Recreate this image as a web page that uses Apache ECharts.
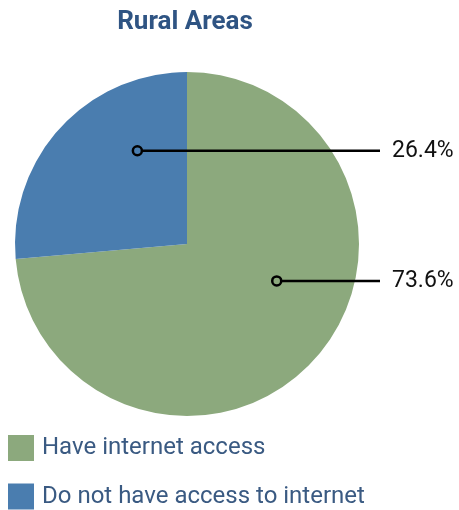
<!DOCTYPE html>
<html>
<head>
<meta charset="utf-8">
<style>
  html, body { margin: 0; padding: 0; background: #ffffff; }
  #chart { width: 459px; height: 510px; }
</style>
<script src="https://cdn.jsdelivr.net/npm/echarts@6/dist/echarts.min.js"></script>
</head>
<body>
<div id="chart"></div>
<script>
// Internet access in rural areas (share of households, %)
const categories = ['Have internet access', 'Do not have access to internet'];
const shares = [73.6, 26.4];
const sliceColors = ['#8ca97d', '#4a7daf'];

// Where each connector starts inside its slice: fraction along the slice's arc and fraction of the radius
const anchorAngleFrac = [0.424, 0.705];
const anchorRadiusFrac = [0.564, 0.614];

const LINE_END_X = 380;
const TEXT_X = 392;

const chart = echarts.init(document.getElementById('chart'), null, { renderer: 'canvas' });

function anchorPoint(idx) {
  const layout = chart.getModel().getSeriesByIndex(0).getData().getItemLayout(idx);
  const a = layout.startAngle + (layout.endAngle - layout.startAngle) * anchorAngleFrac[idx];
  const r = layout.r * anchorRadiusFrac[idx];
  return [layout.cx + r * Math.cos(a), layout.cy + r * Math.sin(a)];
}

const option = {
  animation: false,
  backgroundColor: '#ffffff',
  title: {
    text: 'Rural Areas',
    left: 185,
    textAlign: 'center',
    top: 9,
    padding: 0,
    textStyle: { fontFamily: 'Roboto', fontSize: 26, fontWeight: 'bold', color: '#2f5483' }
  },
  legend: {
    orient: 'vertical',
    left: 8,
    top: 435,
    height: 120,
    padding: 0,
    icon: 'rect',
    itemWidth: 26,
    itemHeight: 26,
    itemGap: 22.5,
    selectedMode: false,
    textStyle: { fontFamily: 'Roboto', fontSize: 24, color: '#3a5a82', padding: [0, 0, 0, 3] },
    data: categories
  },
  series: [{
    type: 'pie',
    center: [187, 244],
    radius: 172,
    startAngle: 90,
    clockwise: true,
    silent: true,
    emphasis: { disabled: true },
    itemStyle: { borderWidth: 0 },
    label: { show: false },
    labelLine: { show: false },
    data: categories.map((name, i) => ({
      name: name,
      value: shares[i],
      itemStyle: { color: sliceColors[i] }
    }))
  }]
};

chart.setOption(option);

// value callouts: ring inside the slice, horizontal leader, percentage text
const callouts = [];
shares.forEach((v, i) => {
  const p = anchorPoint(i);
  callouts.push({
    type: 'line',
    shape: { x1: p[0], y1: p[1], x2: LINE_END_X, y2: p[1] },
    style: { stroke: '#000000', lineWidth: 2.5 },
    z: 100
  });
  callouts.push({
    type: 'circle',
    shape: { cx: p[0], cy: p[1], r: 4.5 },
    style: { fill: sliceColors[i], stroke: '#000000', lineWidth: 2.5 },
    z: 101
  });
  callouts.push({
    type: 'text',
    x: TEXT_X,
    y: p[1],
    style: {
      text: v.toFixed(1) + '%',
      fontFamily: 'Roboto',
      fontSize: 23,
      fill: '#111111',
      align: 'left',
      verticalAlign: 'middle'
    },
    z: 101
  });
});
chart.setOption({ graphic: callouts });
</script>
</body>
</html>
